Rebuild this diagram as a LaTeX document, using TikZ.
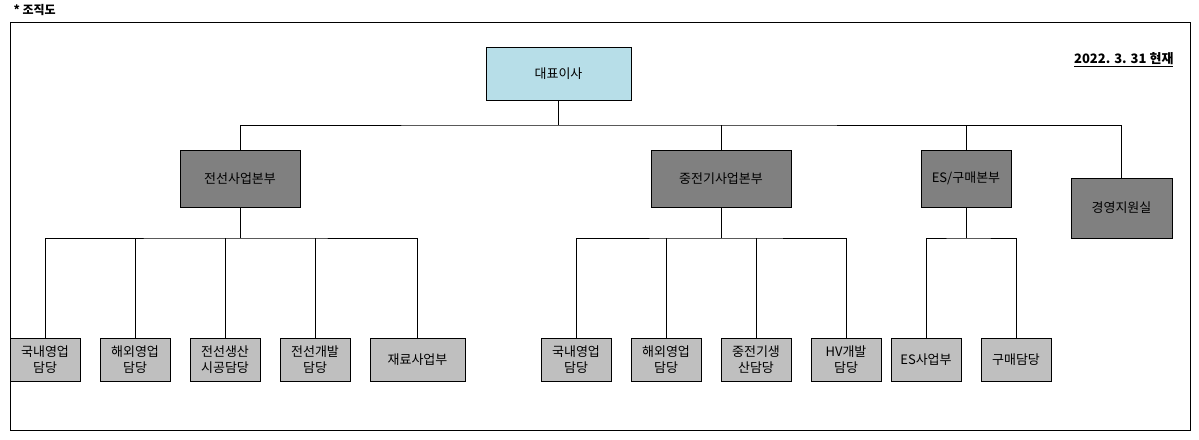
\documentclass[tikz,border=0pt]{standalone}
\usepackage{fontspec}
\newfontfamily\kr{Noto Sans CJK KR}
\usetikzlibrary{positioning}

\begin{document}
\begin{tikzpicture}[x=1pt,y=-1pt,
                font=\kr\fontsize{13}{16}\selectfont,
                topnode/.style={rectangle, draw, fill={rgb,255:red,183;green,222;blue,232}, minimum width=145pt, minimum height=53pt},
                headnode/.style={rectangle, draw, fill=gray, minimum height=57pt},
                subnode/.style={rectangle, draw, fill=gray!50, minimum width=70pt, minimum height=43pt, align=center, inner sep=1pt},
            ]
            \useasboundingbox (0,0) rectangle (1199,439);
            % Frame and texts
            \draw[thick] (10,22) rectangle (1190,430);
            \node[anchor=west, font=\kr\bfseries\fontsize{12}{14}\selectfont] (title) at (10,10) {* 조직도};
            \node[anchor=east, font=\kr\bfseries\fontsize{13}{15}\selectfont] (date) at (1177,60) {\underline{2022. 3. 31 현재}};

            % Nodes
            \node[topnode]                       (ceo)      at (558.5,73.5)  {대표이사};
            \node[headnode, minimum width=120pt] (cable)    at (240,178.5)   {전선사업본부};
            \node[headnode, minimum width=140pt] (heavy)    at (721,178.5)   {중전기사업본부};
            \node[headnode, minimum width=90pt]  (es)       at (966,178.5)   {ES/구매본부};
            \node[headnode, minimum width=101pt, minimum height=60pt] (support) at (1121.5,208) {경영지원실};

            \node[subnode]                       (cable_dom)   at (45,359.5)   {국내영업\\담당};
            \node[subnode]                       (cable_ovs)   at (135,359.5)  {해외영업\\담당};
            \node[subnode]                       (cable_prod)  at (225,359.5)  {전선생산\\시공담당};
            \node[subnode]                       (cable_dev)   at (315,359.5)  {전선개발\\담당};
            \node[subnode, minimum width=95pt]   (cable_mat)   at (417.5,359.5) {재료사업부};

            \node[subnode]                       (heavy_dom)   at (576,359.5)  {국내영업\\담당};
            \node[subnode]                       (heavy_ovs)   at (666,359.5)  {해외영업\\담당};
            \node[subnode]                       (heavy_prod)  at (756,359.5)  {중전기생\\산담당};
            \node[subnode]                       (heavy_hv)    at (846,359.5)  {HV개발\\담당};

            \node[subnode]                       (es_biz)      at (926,359.5)  {ES사업부};
            \node[subnode]                       (es_buy)      at (1016,359.5) {구매담당};

            % Lines
            \coordinate (top_bus) at (558.5,125);
            \draw (ceo.south) -- (top_bus);
            \draw (cable.north) |- (top_bus) -| (support.north);
            \draw (heavy.north) -- (heavy.north |- top_bus);
            \draw (es.north) -- (es.north |- top_bus);

            \coordinate (cable_bus) at (240,238);
            \draw (cable.south) -- (cable_bus);
            \draw (cable_dom.north) |- (cable_bus) -| (cable_mat.north);
            \draw (cable_ovs.north) -- (cable_ovs.north |- cable_bus);
            \draw (cable_prod.north) -- (cable_prod.north |- cable_bus);
            \draw (cable_dev.north) -- (cable_dev.north |- cable_bus);

            \coordinate (heavy_bus) at (721,238);
            \draw (heavy.south) -- (heavy_bus);
            \draw (heavy_dom.north) |- (heavy_bus) -| (heavy_hv.north);
            \draw (heavy_ovs.north) -- (heavy_ovs.north |- heavy_bus);
            \draw (heavy_prod.north) -- (heavy_prod.north |- heavy_bus);

            \coordinate (es_bus) at (966,238);
            \draw (es.south) -- (es_bus);
            \draw (es_biz.north) |- (es_bus) -| (es_buy.north);
        \end{tikzpicture}
\end{document}
